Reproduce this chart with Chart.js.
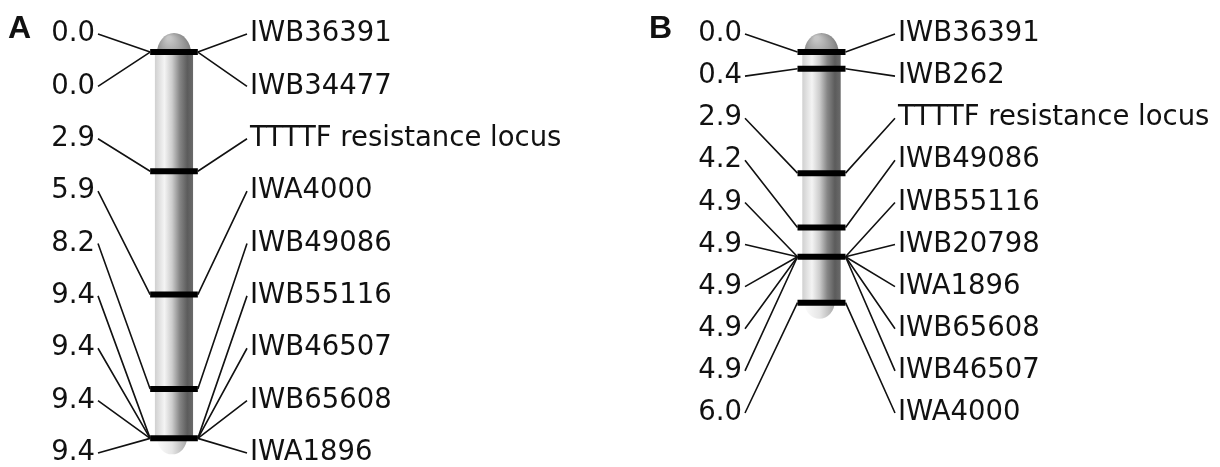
<!DOCTYPE html>
<html>
<head>
<meta charset="utf-8">
<script src="https://cdn.jsdelivr.net/npm/chart.js@4.4.1/dist/chart.umd.min.js"></script>
<style>
  html, body { margin: 0; padding: 0; background: #fff; overflow: hidden; }
  #wrap { position: relative; width: 1220px; height: 467px; }
  canvas { position: absolute; top: 0; }
  .panel-tag { position: absolute; top: 11px; font: bold 32px "Liberation Sans", Arial, sans-serif; line-height: 32px; color: #111; }
</style>
</head>
<body>
<div id="wrap">
  <canvas id="mapA" width="610" height="467" style="left:0"></canvas>
  <canvas id="mapB" width="610" height="467" style="left:610px"></canvas>
  <div class="panel-tag" style="left:8px">A</div>
  <div class="panel-tag" style="left:649px">B</div>
</div>
<script>
// Map A: marker positions (cM) and names, top to bottom
const positionsA = [0.0, 0.0, 2.9, 5.9, 8.2, 9.4, 9.4, 9.4, 9.4];
const markersA = ['IWB36391', 'IWB34477', 'TTTTF resistance locus', 'IWA4000', 'IWB49086',
                  'IWB55116', 'IWB46507', 'IWB65608', 'IWA1896'];

// Map B
const positionsB = [0.0, 0.4, 2.9, 4.2, 4.9, 4.9, 4.9, 4.9, 4.9, 6.0];
const markersB = ['IWB36391', 'IWB262', 'TTTTF resistance locus', 'IWB49086', 'IWB55116',
                  'IWB20798', 'IWA1896', 'IWB65608', 'IWB46507', 'IWA4000'];

// chromosome body and marker band extents, in x-axis units (0..100)
const BODY_X = [38.2, 63.8];
const BAND_X = [35, 67];

const FONT = { family: 'DejaVu Sans', size: 27.5, lineHeight: 0.8 };

// draws the chromosome under the bands and the label connectors over them
const linkageMap = {
  id: 'linkageMap',
  beforeDatasetsDraw(chart) {
    const { ctx, scales: { x, cm } } = chart;
    const pos = chart.options.plugins.linkageMap.positions;
    const x0 = x.getPixelForValue(BODY_X[0]);
    const x1 = x.getPixelForValue(BODY_X[1]);
    const yTop = cm.getPixelForValue(Math.min(...pos));
    const yBot = cm.getPixelForValue(Math.max(...pos));
    const w = x1 - x0, cx = (x0 + x1) / 2;
    ctx.save();

    // top dome
    const dome = ctx.createRadialGradient(cx - 5, yTop - 14, 2, cx, yTop, w / 2 + 4);
    dome.addColorStop(0, '#c6c6c6');
    dome.addColorStop(0.6, '#8e8e8e');
    dome.addColorStop(1, '#5e5e5e');
    ctx.fillStyle = dome;
    ctx.beginPath();
    ctx.ellipse(cx, yTop + 1, w / 2 - 2, 20, 0, Math.PI, 2 * Math.PI);
    ctx.fill();

    // bottom end
    const cap = ctx.createLinearGradient(x0, 0, x1, 0);
    cap.addColorStop(0, '#ffffff');
    cap.addColorStop(0.45, '#e6e6e6');
    cap.addColorStop(1, '#909090');
    ctx.fillStyle = cap;
    ctx.beginPath();
    ctx.ellipse(cx - 2, yBot - 1, w / 2 - 4, 17, 0, 0, Math.PI);
    ctx.fill();

    // body
    const g = ctx.createLinearGradient(x0, 0, x1, 0);
    g.addColorStop(0, '#d0d0d0');
    g.addColorStop(0.25, '#f4f4f4');
    g.addColorStop(0.45, '#cccccc');
    g.addColorStop(0.65, '#868686');
    g.addColorStop(0.85, '#5c5c5c');
    g.addColorStop(1, '#6a6a6a');
    ctx.fillStyle = g;
    ctx.fillRect(x0, yTop, w, yBot - yTop);
    ctx.restore();
  },
  afterDatasetsDraw(chart) {
    const { ctx, chartArea, scales: { x, cm, row } } = chart;
    const pos = chart.options.plugins.linkageMap.positions;
    const xl = x.getPixelForValue(BAND_X[0]);
    const xr = x.getPixelForValue(BAND_X[1]);
    ctx.save();
    ctx.strokeStyle = '#111';
    ctx.lineWidth = 1.6;
    pos.forEach((p, i) => {
      const yr = row.getPixelForValue(i);
      const yc = cm.getPixelForValue(p);
      ctx.beginPath();
      ctx.moveTo(chartArea.left, yr);
      ctx.lineTo(xl, yc);
      ctx.moveTo(chartArea.right, yr);
      ctx.lineTo(xr, yc);
      ctx.stroke();
    });
    ctx.restore();
  }
};

function rowAxis(side, labels, width) {
  return {
    type: 'linear',
    position: side,
    reverse: true,
    min: 0,
    max: labels.length - 1,
    grid: { display: false, drawTicks: false },
    border: { display: false },
    ticks: {
      padding: 3,
      color: '#111',
      autoSkip: false,
      font: FONT,
      callback: (v) => labels[v]
    },
    afterBuildTicks: (s) => { s.ticks = labels.map((_, i) => ({ value: i })); },
    afterFit: (s) => { s.width = width; }
  };
}

function drawMap(canvasId, positions, markers, panel) {
  const bands = [...new Set(positions)].map(p => ({
    data: [{ x: BAND_X[0], y: p }, { x: BAND_X[1], y: p }],
    showLine: true,
    borderColor: '#000',
    borderWidth: 6,
    pointRadius: 0,
    xAxisID: 'x',
    yAxisID: 'cm',
    clip: false
  }));

  return new Chart(document.getElementById(canvasId), {
    type: 'scatter',
    data: { datasets: bands },
    options: {
      responsive: false,
      animation: false,
      layout: { padding: panel.padding },
      plugins: {
        legend: { display: false },
        tooltip: { enabled: false },
        linkageMap: { positions: positions }
      },
      scales: {
        x: { type: 'linear', min: 0, max: 100, display: false },
        cm: { type: 'linear', reverse: true, min: panel.cmRange[0], max: panel.cmRange[1], display: false },
        row: rowAxis('left', positions.map(p => p.toFixed(1)), panel.leftWidth),
        rowR: rowAxis('right', markers, panel.rightWidth)
      }
    },
    plugins: [linkageMap]
  });
}

drawMap('mapA', positionsA, markersA, {
  padding: { top: 34, bottom: 14, left: 0, right: 0 },
  cmRange: [-0.44, 9.756],
  leftWidth: 98,
  rightWidth: 363
});

drawMap('mapB', positionsB, markersB, {
  padding: { top: 34, bottom: 54, left: 0, right: 0 },
  cmRange: [-0.43, 8.64],
  leftWidth: 135,
  rightWidth: 325
});
</script>
</body>
</html>
